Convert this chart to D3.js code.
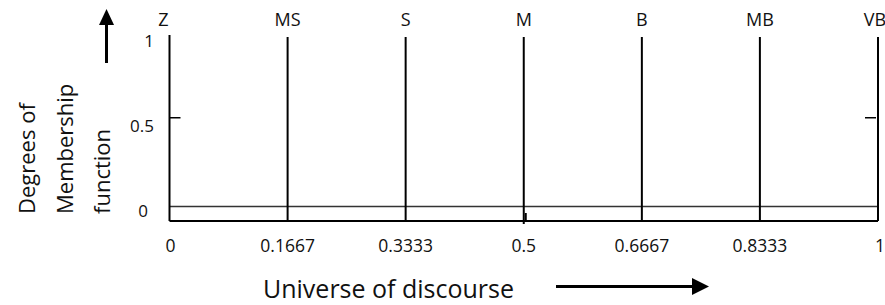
<!DOCTYPE html>
<html>
<head>
<meta charset="utf-8">
<script src="https://cdn.jsdelivr.net/npm/d3@7"></script>
<style>
  html, body { margin: 0; padding: 0; background: #fff; }
  svg { display: block; font-family: "Open Sans", sans-serif; }
</style>
</head>
<body>
<div id="chart"></div>
<script>
// Singleton fuzzy sets on the universe of discourse
const termLabels = ["Z", "MS", "S", "M", "B", "MB", "VB"];
const termCenters = [0, 0.1667, 0.3333, 0.5, 0.6667, 0.8333, 1];
const termMembership = [1, 1, 1, 1, 1, 1, 1];

const xTickValues = [0, 0.1667, 0.3333, 0.5, 0.6667, 0.8333, 1];
const xTickLabels = ["0", "0.1667", "0.3333", "0.5", "0.6667", "0.8333", "1"];
const yTickValues = [0, 0.5, 1];
const yTickLabels = ["0", "0.5", "1"];

const yTitleLines = ["Degrees of", "Membership", "function"];
const xTitle = "Universe of discourse";

const width = 885;
const height = 305;
const axisY = 221; // baseline line under the zero level

const svg = d3.select("#chart")
    .append("svg")
    .attr("width", width)
    .attr("height", height);

const x = d3.scaleLinear().domain([0, 1]).range([169.5, 878]);
const y = d3.scaleLinear().domain([0, 1]).range([206.5, 37]);

// zero level line (thin) and bottom axis line
svg.append("line")
    .attr("x1", x(0)).attr("x2", x(1))
    .attr("y1", y(0)).attr("y2", y(0))
    .attr("stroke", "#333").attr("stroke-width", 1.6);

svg.append("line")
    .attr("x1", x(0)).attr("x2", x(1))
    .attr("y1", axisY).attr("y2", axisY)
    .attr("stroke", "#000").attr("stroke-width", 2);

// singleton membership lines
const terms = termLabels.map((t, i) => ({ label: t, c: termCenters[i], m: termMembership[i] }));

svg.append("g")
    .selectAll("line")
    .data(terms)
    .enter().append("line")
    .attr("x1", d => x(d.c)).attr("x2", d => x(d.c))
    .attr("y1", d => y(d.m) - (d.c === 0 ? 2 : 0))
    .attr("y2", d => d.c === 0.5 ? axisY + 3 : axisY)
    .attr("stroke", "#000").attr("stroke-width", 2);

// small mark on the axis at M
svg.append("line")
    .attr("x1", x(0.5) + 2).attr("x2", x(0.5) + 2)
    .attr("y1", axisY - 8).attr("y2", axisY - 1)
    .attr("stroke", "#000").attr("stroke-width", 2);

svg.append("g")
    .selectAll("text")
    .data(terms)
    .enter().append("text")
    .attr("x", d => d.c === 0 ? x(d.c) - 1 : (d.c === 1 ? x(d.c) - 3 : x(d.c)))
    .attr("y", 26)
    .attr("text-anchor", d => d.c === 0 ? "end" : "middle")
    .attr("font-size", 18)
    .attr("fill", "#111")
    .text(d => d.label);

// 0.5 tick marks on the left and right
svg.append("line")
    .attr("x1", x(0)).attr("x2", x(0) + 11)
    .attr("y1", y(0.5) - 4).attr("y2", y(0.5) - 4)
    .attr("stroke", "#000").attr("stroke-width", 1.5);
svg.append("line")
    .attr("x1", x(1) - 13).attr("x2", x(1) - 2)
    .attr("y1", y(0.5) - 4).attr("y2", y(0.5) - 4)
    .attr("stroke", "#000").attr("stroke-width", 1.5);

// y tick labels
svg.append("g")
    .selectAll("text")
    .data(yTickValues)
    .enter().append("text")
    .attr("x", (d, i) => d === 0 ? 148 : 154)
    .attr("y", d => y(d) + 10)
    .attr("text-anchor", "end")
    .attr("font-size", 17)
    .attr("fill", "#111")
    .text((d, i) => yTickLabels[i]);

// x tick labels
svg.append("g")
    .selectAll("text")
    .data(xTickValues)
    .enter().append("text")
    .attr("x", d => x(d) + (d === 0 ? 1 : (d === 1 ? 2 : 0)))
    .attr("y", 252)
    .attr("text-anchor", "middle")
    .attr("font-size", 17.5)
    .attr("fill", "#111")
    .text((d, i) => xTickLabels[i]);

// x title and arrow
svg.append("text")
    .attr("x", 263)
    .attr("y", 298)
    .attr("font-size", 25)
    .attr("fill", "#111")
    .text(xTitle);

svg.append("line")
    .attr("x1", 556).attr("x2", 695)
    .attr("y1", 286.5).attr("y2", 286.5)
    .attr("stroke", "#000").attr("stroke-width", 3);
svg.append("path")
    .attr("d", "M692,278 L709,286.5 L692,295 Z")
    .attr("fill", "#000");

// y title (rotated, three lines) and arrow
svg.append("g")
    .selectAll("text")
    .data(yTitleLines)
    .enter().append("text")
    .attr("transform", (d, i) => `translate(${35 + i * 37.5},214) rotate(-90)`)
    .attr("font-size", 22)
    .attr("fill", "#111")
    .text(d => d);

svg.append("line")
    .attr("x1", 106.5).attr("x2", 106.5)
    .attr("y1", 63).attr("y2", 22)
    .attr("stroke", "#000").attr("stroke-width", 3);
svg.append("path")
    .attr("d", "M99,25 L106.5,9 L114,25 Z")
    .attr("fill", "#000");
</script>
</body>
</html>
